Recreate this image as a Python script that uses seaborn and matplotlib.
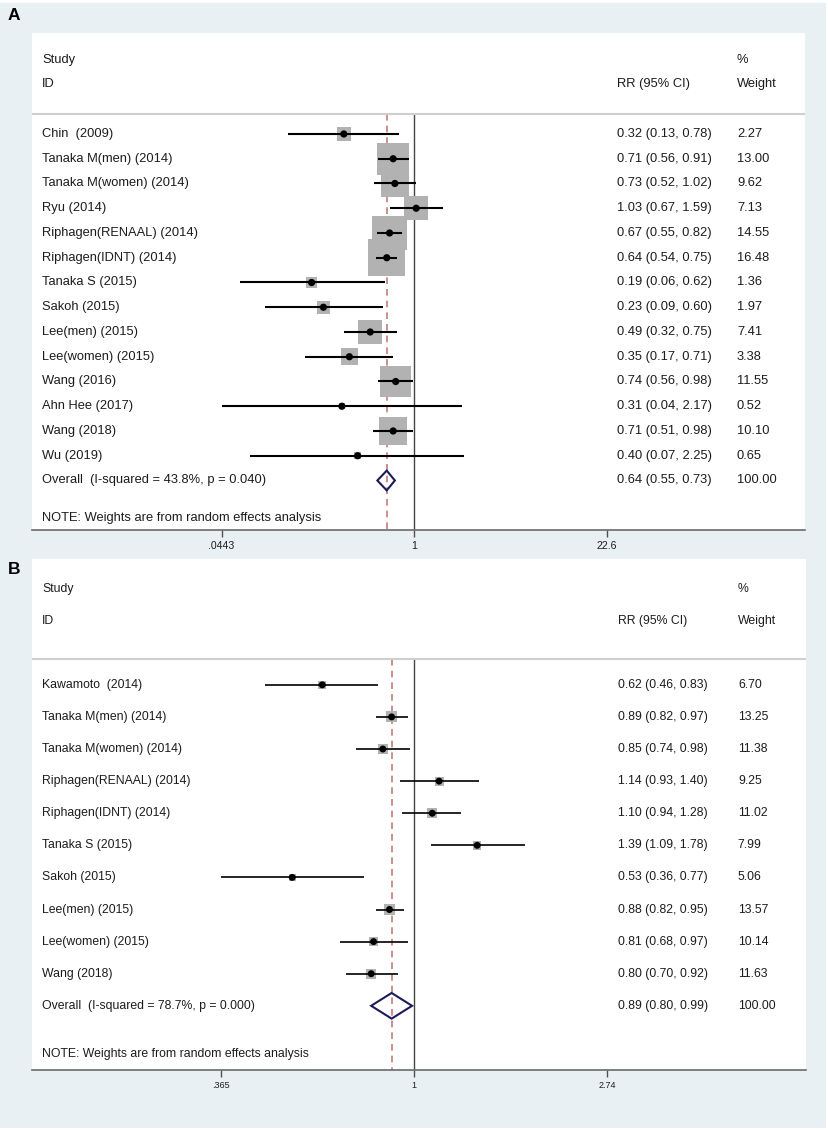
import numpy as np
import pandas as pd
import matplotlib
matplotlib.use("Agg")
import matplotlib.pyplot as plt
import seaborn as sns
from matplotlib.patches import Rectangle
from matplotlib.ticker import NullLocator
from matplotlib.transforms import blended_transform_factory

# ---------------- data: panel A ----------------
a_studies = ["Chin  (2009)", "Tanaka M(men) (2014)", "Tanaka M(women) (2014)", "Ryu (2014)",
             "Riphagen(RENAAL) (2014)", "Riphagen(IDNT) (2014)", "Tanaka S (2015)", "Sakoh (2015)",
             "Lee(men) (2015)", "Lee(women) (2015)", "Wang (2016)", "Ahn Hee (2017)",
             "Wang (2018)", "Wu (2019)"]
a_rr = [0.32, 0.71, 0.73, 1.03, 0.67, 0.64, 0.19, 0.23, 0.49, 0.35, 0.74, 0.31, 0.71, 0.40]
a_lo = [0.13, 0.56, 0.52, 0.67, 0.55, 0.54, 0.06, 0.09, 0.32, 0.17, 0.56, 0.0443, 0.51, 0.07]
a_hi = [0.78, 0.91, 1.02, 1.59, 0.82, 0.75, 0.62, 0.60, 0.75, 0.71, 0.98, 2.17, 0.98, 2.25]
a_wt = [2.27, 13.00, 9.62, 7.13, 14.55, 16.48, 1.36, 1.97, 7.41, 3.38, 11.55, 0.52, 10.10, 0.65]
a_overall = [0.64, 0.55, 0.73]
a_overall_label = "Overall  (I-squared = 43.8%, p = 0.040)"
a_ticks = [0.0443, 1, 22.6]
a_ticklabels = [".0443", "1", "22.6"]

# ---------------- data: panel B ----------------
b_studies = ["Kawamoto  (2014)", "Tanaka M(men) (2014)", "Tanaka M(women) (2014)",
             "Riphagen(RENAAL) (2014)", "Riphagen(IDNT) (2014)", "Tanaka S (2015)", "Sakoh (2015)",
             "Lee(men) (2015)", "Lee(women) (2015)", "Wang (2018)"]
b_rr = [0.62, 0.89, 0.85, 1.14, 1.10, 1.39, 0.53, 0.88, 0.81, 0.80]
b_lo = [0.46, 0.82, 0.74, 0.93, 0.94, 1.09, 0.365, 0.82, 0.68, 0.70]
b_hi = [0.83, 0.97, 0.98, 1.40, 1.28, 1.78, 0.77, 0.95, 0.97, 0.92]
b_wt = [6.70, 13.25, 11.38, 9.25, 11.02, 7.99, 5.06, 13.57, 10.14, 11.63]
b_overall = [0.89, 0.80, 0.99]
b_overall_label = "Overall  (I-squared = 78.7%, p = 0.000)"
b_ticks = [0.365, 1, 2.74]
b_ticklabels = [".365", "1", "2.74"]

note_text = "NOTE: Weights are from random effects analysis"

plt.rcParams['font.family'] = ['Liberation Sans', 'DejaVu Sans']

W, H = 829, 1131
fig = plt.figure(figsize=(W / 100, H / 100), dpi=100)
fig.patch.set_facecolor("white")

BG = "#e8f0f3"
TXT = "#1c1c1c"


def rect_px(x0, y0, x1, y1):
    return [x0 / W, 1 - y1 / H, (x1 - x0) / W, (y1 - y0) / H]


# panel backgrounds
for (x0, y0, x1, y1) in [(0, 3, 826, 559), (0, 559, 826, 1128)]:
    r = rect_px(x0, y0, x1, y1)
    fig.add_artist(Rectangle((r[0], r[1]), r[2], r[3], transform=fig.transFigure,
                             facecolor=BG, edgecolor="none", zorder=-5))


def draw_panel(ax, studies, rr, lo, hi, wt, overall, ov_label, ticks, ticklabels,
               xlim, ytop, box_k, fs, tick_fs, lw, dot_s):
    n = len(studies)
    df = pd.DataFrame({"study": studies, "rr": rr, "lo": lo, "hi": hi, "wt": wt,
                       "row": np.arange(1, n + 1)})
    ax.set_xscale("log")
    ax.set_facecolor("white")
    # weight boxes
    sns.scatterplot(data=df, x="rr", y="row", marker="s", s=df["wt"].to_numpy() * box_k,
                    color="#b2b2b2", edgecolor="none", linewidth=0, ax=ax,
                    legend=False, zorder=2)
    # CI lines
    ax.hlines(df["row"], df["lo"], df["hi"], color="black", lw=lw, zorder=3)
    # point estimates
    sns.scatterplot(data=df, x="rr", y="row", marker="o", s=dot_s, color="black",
                    edgecolor="none", linewidth=0, ax=ax, legend=False, zorder=4)
    ov_row = n + 1
    bottom = n + 3
    # reference lines
    ax.vlines(1, 0.2, bottom, color="#454545", lw=1.0, zorder=1)
    ax.vlines(overall[0], 0.2, bottom, color="#c27c7c", lw=1.2,
              linestyles=(0, (4, 3)), zorder=1)
    # overall diamond
    est, olo, ohi = overall
    ax.fill([olo, est, ohi, est], [ov_row, ov_row - 0.4, ov_row, ov_row + 0.4],
            facecolor="none", edgecolor="#1b1b5c", lw=1.5, zorder=5)
    # header separator
    ax.axhline(0.2, color="#cfcfcf", lw=1.5, zorder=1)

    ax.set_xlim(*xlim)
    ax.set_ylim(bottom, ytop)
    ax.set_xlabel("")
    ax.set_ylabel("")
    ax.set_yticks([])
    ax.set_xticks(ticks)
    ax.set_xticklabels(ticklabels)
    ax.xaxis.set_minor_locator(NullLocator())
    ax.tick_params(axis="x", bottom=True, direction="out", length=5, width=1,
                   color="#505050", labelsize=tick_fs, labelcolor=TXT, pad=3)
    for s in ["top", "left", "right"]:
        ax.spines[s].set_visible(False)
    ax.spines["bottom"].set_color("#6a6a6a")
    ax.spines["bottom"].set_linewidth(1.2)

    tr = blended_transform_factory(ax.transAxes, ax.transData)
    xs, xr, xw = 0.0129, 0.7568, 0.912
    kw = dict(transform=tr, va="center", ha="left", fontsize=fs, color=TXT)
    ax.text(xs, -2, "Study", **kw)
    ax.text(xs, -1, "ID", **kw)
    ax.text(xr, -1, "RR (95% CI)", **kw)
    ax.text(xw, -2, "%", **kw)
    ax.text(xw, -1, "Weight", **kw)
    for i in range(n):
        ax.text(xs, i + 1, studies[i], **kw)
        ax.text(xr, i + 1, f"{rr[i]:.2f} ({lo[i]:.2f}, {hi[i]:.2f})", **kw)
        ax.text(xw, i + 1, f"{wt[i]:.2f}", **kw)
    ax.text(xs, ov_row, ov_label, **kw)
    ax.text(xr, ov_row, f"{est:.2f} ({olo:.2f}, {ohi:.2f})", **kw)
    ax.text(xw, ov_row, "100.00", **kw)
    ax.text(xs, n + 2.5, note_text, **kw)


axA = fig.add_axes(rect_px(32, 33, 805, 530))
draw_panel(axA, a_studies, a_rr, a_lo, a_hi, a_wt, a_overall, a_overall_label,
           a_ticks, a_ticklabels, xlim=(0.002069, 553.0), ytop=-3.08,
           box_k=42.0, fs=9.3, tick_fs=7.6, lw=1.5, dot_s=27)

axB = fig.add_axes(rect_px(32, 559, 806, 1070))
draw_panel(axB, b_studies, b_rr, b_lo, b_hi, b_wt, b_overall, b_overall_label,
           b_ticks, b_ticklabels, xlim=(0.1365, 7.72), ytop=-2.92,
           box_k=4.7, fs=8.8, tick_fs=6.5, lw=1.2, dot_s=25)

fig.text(14 / W, 1 - 15 / H, "A", ha="center", va="center", fontsize=12.5,
         fontweight="bold", color="black")
fig.text(14 / W, 1 - 570 / H, "B", ha="center", va="center", fontsize=12.5,
         fontweight="bold", color="black")

fig.savefig("out.png", dpi=100)
